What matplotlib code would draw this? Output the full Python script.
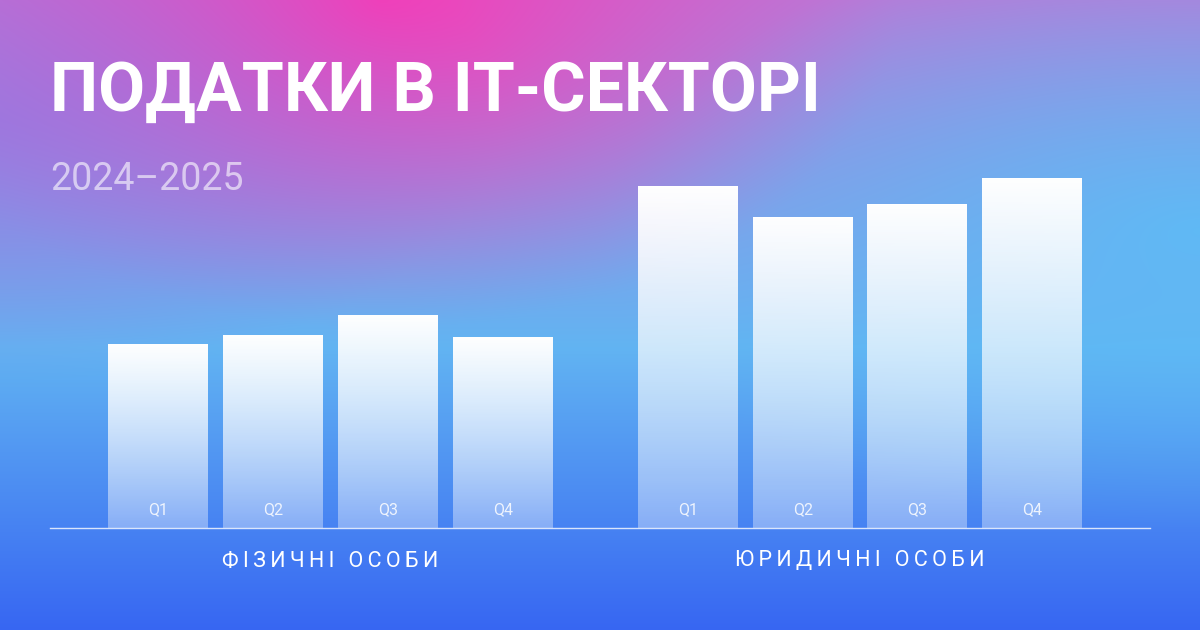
import numpy as np
import matplotlib.pyplot as plt
from matplotlib.colors import to_rgb

quarters = ["Q1", "Q2", "Q3", "Q4"]
groups = ["ФІЗИЧНІ ОСОБИ", "ЮРИДИЧНІ ОСОБИ"]
individuals = [184, 193, 213, 191]
companies = [342, 311, 324, 350]

W, H = 1200, 630
fig = plt.figure(figsize=(12, 6.3), dpi=100)
ax = fig.add_axes([0, 0, 1, 1])
ax.set_xlim(0, W)
ax.set_ylim(0, H)
ax.axis("off")

# background gradient
yy, xx = np.mgrid[0:H, 0:W]
t = yy / H
top = np.array(to_rgb("#b77bd8"))
mid = np.array(to_rgb("#62b4f2"))
bot = np.array(to_rgb("#3766f2"))
k = np.clip(t / 0.55, 0, 1)[..., None]
k2 = np.clip((t - 0.55) / 0.45, 0, 1)[..., None]
img = top * (1 - k) + mid * k
img = img * (1 - k2) + bot * k2
lblue = np.array(to_rgb("#5cbcf6"))
d3 = np.sqrt(((xx - 1200) / 600.0) ** 2 + ((yy - 230) / 300.0) ** 2)
wb = 0.9 * np.clip(1 - d3, 0, 1)[..., None]
img = img * (1 - wb) + lblue * wb
pink = np.array(to_rgb("#f53db8"))
d = np.sqrt(((xx - 380) / 520.0) ** 2 + (yy / 330.0) ** 2)
wp = np.clip(1 - d, 0, 1)[..., None] ** 1.2
img = img * (1 - wp) + pink * wp
purp = np.array(to_rgb("#9a6ee0"))
d2 = np.sqrt(((xx - 0) / 500.0) ** 2 + ((yy - 120) / 260.0) ** 2)
wq = 0.6 * np.clip(1 - d2, 0, 1)[..., None]
img = img * (1 - wq) + purp * wq
ax.imshow(img, extent=[0, W, 0, H], origin="upper", zorder=0, aspect="auto")

base = 102
bw = 100
x1 = [158 + i * 115 for i in range(4)]
x2 = [688 + i * 114.7 for i in range(4)]

grad = np.ones((256, 1, 4))
grad[..., 3] = np.linspace(1.0, 0.35, 256)[:, None]
for xs, vals in [(x1, individuals), (x2, companies)]:
    bars = ax.bar(xs, vals, width=bw, bottom=base, color="none", zorder=2)
    for b, q in zip(bars, quarters):
        x0, h = b.get_x(), b.get_height()
        im = ax.imshow(grad, extent=[x0, x0 + bw, base, base + h], origin="upper",
                       aspect="auto", zorder=2)
        im.set_clip_path(b)
        ax.text(x0 + bw / 2, base + 18, q, ha="center", va="center", color="white",
                alpha=0.85, fontsize=11.5, family="Roboto", zorder=3)

ax.plot([50, 1150], [base, base], color="white", alpha=0.8, lw=1, zorder=3)
for xs, g in zip([x1, x2], groups):
    spaced = "\u2009".join(g)
    ax.text(np.mean(xs), H - 561, spaced, ha="center", va="center", color="white",
            fontsize=15.5, family="Roboto", zorder=3)

ax.text(50, H - 92, "ПОДАТКИ В ІТ-СЕКТОРІ", ha="left", va="center", color="white",
        fontsize=49, fontweight="bold", family="Roboto", zorder=3)
ax.text(50, H - 180, "2024–2025", ha="left", va="center", color="white", alpha=0.6,
        fontsize=27, family="Roboto", zorder=3)

fig.savefig("out.png", dpi=100)
